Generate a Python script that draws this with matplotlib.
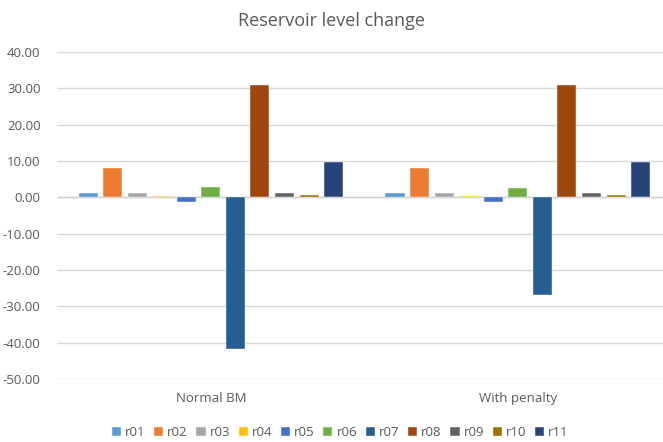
import matplotlib
matplotlib.use("Agg")
import matplotlib.pyplot as plt
import numpy as np

categories = ["Normal BM", "With penalty"]
series_names = ["r01", "r02", "r03", "r04", "r05", "r06", "r07", "r08", "r09", "r10", "r11"]
normal_bm = [1.35, 8.2, 1.1, 0.4, -1.2, 2.8, -41.6, 31.0, 1.1, 0.8, 9.8]
with_penalty = [1.3, 8.2, 1.1, 0.4, -1.2, 2.5, -26.8, 31.0, 1.1, 0.8, 9.8]
y_ticks = [-50, -40, -30, -20, -10, 0, 10, 20, 30, 40]

colors = ["#5B9BD5", "#ED7D31", "#A5A5A5", "#FFC000", "#4472C4", "#70AD47",
          "#255E91", "#9E480E", "#636363", "#997300", "#264478"]

plt.rcParams['font.family'] = ['Open Sans', 'DejaVu Sans']

fig = plt.figure(figsize=(6.63, 4.42), dpi=100)
ax = fig.add_axes([0.0865, 0.1425, 0.926, 0.7395])

x = np.arange(len(categories))
pitch = 0.080
width = 0.062
n = len(series_names)
for i, name in enumerate(series_names):
    vals = [normal_bm[i], with_penalty[i]]
    offs = (i - (n - 1) / 2) * pitch
    ax.bar(x + offs, vals, width, color=colors[i], label=name,
           edgecolor="white", linewidth=0.3, zorder=3)

ax.set_xlim(-0.5, 1.5)
ax.set_ylim(-50, 40)
ax.set_yticks(y_ticks)
ax.set_yticklabels([f"{v:.2f}" for v in y_ticks])
ax.set_xticks(x)
ax.set_xticklabels(categories)
ax.tick_params(axis='y', length=0, labelsize=9.5, colors="#595959", pad=12)
ax.tick_params(axis='x', length=0, labelsize=9.5, colors="#595959", pad=9)
for s in ax.spines.values():
    s.set_visible(False)
ax.grid(axis='y', color="#D9D9D9", linewidth=1, zorder=0)
ax.axhline(0, color="#D0D0D0", linewidth=1, zorder=2)

fig.suptitle("Reservoir level change", y=0.972, fontsize=13, color="#595959")

fig.legend(loc="center", bbox_to_anchor=(0.513, 0.022), ncol=11, frameon=False,
           handlelength=0.7, handleheight=0.7, handletextpad=0.3,
           columnspacing=0.65, fontsize=9.5, labelcolor="#595959")

fig.savefig("out.png", dpi=100)
